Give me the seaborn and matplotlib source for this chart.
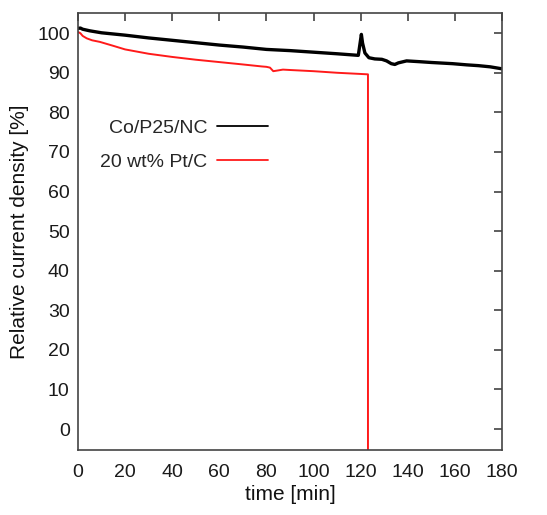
import matplotlib
matplotlib.use("Agg")
import matplotlib.pyplot as plt
import seaborn as sns
import pandas as pd

# Co/P25/NC (black)
t_co = [0, 1, 2, 5, 10, 20, 30, 40, 50, 60, 70, 80, 90, 100, 110, 119, 120.3, 120.8,
        121.8, 123.5, 126, 129, 131, 133, 134.5, 136, 139.5, 145, 150, 159, 165, 170, 175, 180]
y_co = [101.2, 101.3, 101.0, 100.6, 100.1, 99.5, 98.8, 98.2, 97.6, 97.0, 96.5, 95.9, 95.6,
        95.2, 94.8, 94.4, 99.7, 97.5, 95.0, 93.8, 93.5, 93.4, 93.0, 92.3, 92.1, 92.5, 93.0,
        92.8, 92.6, 92.3, 92.0, 91.8, 91.5, 91.0]

# 20 wt% Pt/C (red)
t_pt = [0, 1, 2, 3.7, 6, 9.3, 15, 20, 30, 40, 50, 60, 70, 78, 80, 81.5, 82.9, 85, 87, 90,
        100, 110, 120, 123.1, 123.1]
y_pt = [100.3, 100.0, 99.3, 98.7, 98.2, 97.8, 96.8, 95.9, 94.8, 94.0, 93.3, 92.7, 92.1,
        91.6, 91.5, 91.3, 90.4, 90.6, 90.8, 90.7, 90.4, 90.0, 89.7, 89.6, -10]

labels = ["Co/P25/NC", "20 wt% Pt/C"]
colors = ["#000000", "#ff1a1a"]

sns.set_style("white")
plt.rcParams['font.family'] = ['Liberation Sans', 'DejaVu Sans']

fig = plt.figure(figsize=(5.47, 5.15), dpi=100)
ax = fig.add_axes([78/547, 1-450/515, (502-78)/547, (450-13)/515])

df_co = pd.DataFrame({"t": t_co, "y": y_co})
df_pt = pd.DataFrame({"t": t_pt, "y": y_pt})
sns.lineplot(data=df_co, x="t", y="y", color=colors[0], lw=2.4, sort=False,
             estimator=None, label=labels[0], ax=ax)
sns.lineplot(data=df_pt, x="t", y="y", color=colors[1], lw=1.4, sort=False,
             estimator=None, label=labels[1], ax=ax)

ax.set_xlim(0, 180)
ax.set_ylim(-5.3, 105.1)
ax.set_xticks(range(0, 181, 20))
ax.set_yticks(range(0, 101, 10))
ax.tick_params(direction="in", top=True, right=True, length=6, width=1.1,
               labelsize=14, colors="#333333", labelcolor="#1a1a1a")
ax.tick_params(axis="x", pad=10)
ax.tick_params(axis="y", pad=6)
for s in ax.spines.values():
    s.set_color("#444444")
    s.set_linewidth(1.2)
ax.set_xlabel("time [min]", fontsize=15, color="#111111", labelpad=3)
ax.set_ylabel("Relative current density [%]", fontsize=15, color="#111111", labelpad=6)

leg = ax.legend(loc="center", bbox_to_anchor=(0.25, 0.698), frameon=False,
                markerfirst=False, fontsize=14, handlelength=2.6,
                handletextpad=0.5, labelspacing=0.85)
for h in leg.get_lines():
    h.set_linewidth(1.3)

fig.savefig("out.png", dpi=100)
